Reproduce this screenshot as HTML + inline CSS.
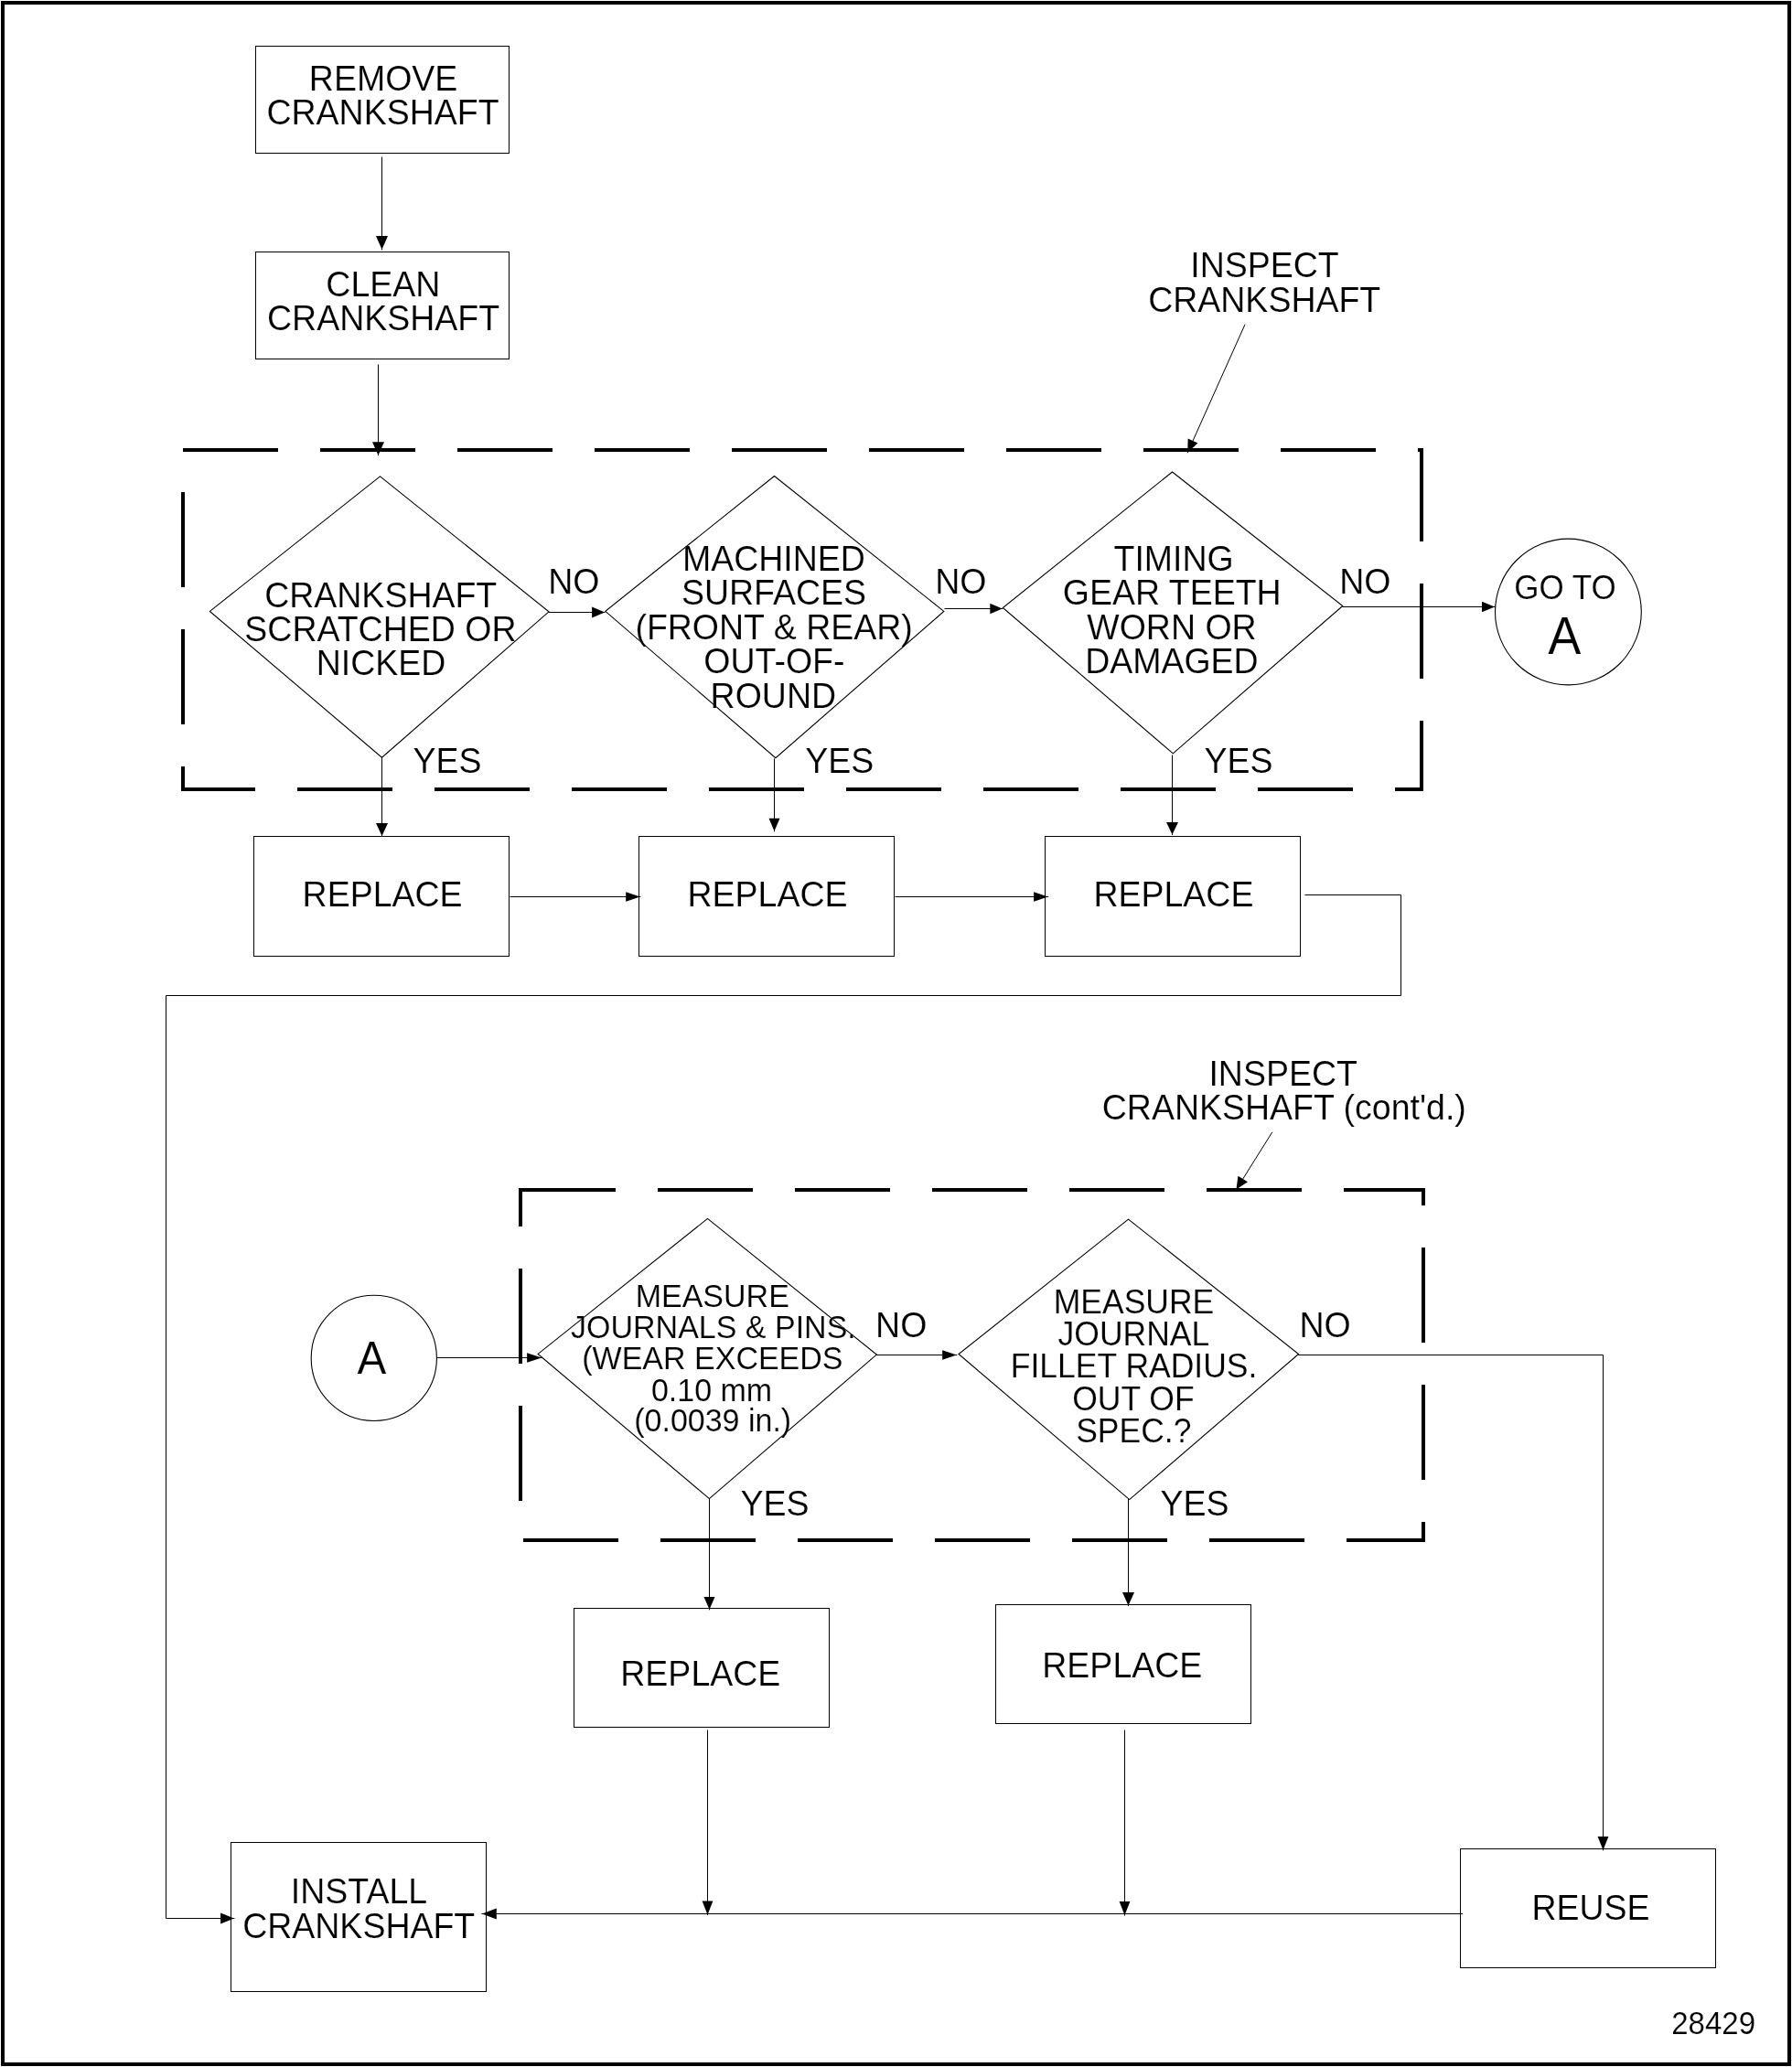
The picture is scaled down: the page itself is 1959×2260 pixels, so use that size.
<!DOCTYPE html>
<html><head><meta charset="utf-8"><title>Crankshaft flowchart</title>
<style>
html,body{margin:0;padding:0;background:#fff;}
body{width:1959px;height:2260px;overflow:hidden;}
svg{display:block;will-change:transform;}
text{font-family:"Liberation Sans", sans-serif;fill:#000;stroke:#fff;stroke-width:0.15px;}
</style></head><body>
<svg width="1959" height="2260" viewBox="0 0 1959 2260" stroke="#000">
<rect x="3" y="3" width="1953" height="2254" fill="none" stroke-width="4"/>
<rect x="279.5" y="50.5" width="277.0" height="117.0" fill="none"/>
<rect x="279.5" y="275.5" width="277.0" height="117.0" fill="none"/>
<rect x="277.5" y="914.5" width="279.0" height="131.0" fill="none"/>
<rect x="698.5" y="914.5" width="279.0" height="131.0" fill="none"/>
<rect x="1142.5" y="914.5" width="279.0" height="131.0" fill="none"/>
<rect x="252.5" y="2014.5" width="279.0" height="163.0" fill="none"/>
<rect x="627.5" y="1758.5" width="279.0" height="130.0" fill="none"/>
<rect x="1088.5" y="1754.5" width="279.0" height="130.0" fill="none"/>
<rect x="1596.5" y="2021.5" width="279.0" height="130.0" fill="none"/>
<rect x="200" y="492" width="1354" height="371" fill="none" stroke-width="4" stroke-dasharray="104 46"/>
<rect x="569" y="1301" width="987" height="383" fill="none" stroke-width="4" stroke-dasharray="104 46"/>
<polygon points="415.5,520.9 600,668.8 417.5,828.2 229.4,668.4" fill="none" stroke-width="1.1"/>
<polygon points="846.5,520.5 1031.8,668.4 847.9,828.7 661.8,668.3" fill="none" stroke-width="1.1"/>
<polygon points="1281.5,516 1467.8,662.5 1282.3,823.8 1096.3,664.5" fill="none" stroke-width="1.1"/>
<polygon points="773.5,1332.4 958.3,1481.1 775.4,1638.6 588.1,1480.4" fill="none" stroke-width="1.1"/>
<polygon points="1233.5,1333.1 1419.6,1480.5 1234.7,1639.6 1048,1480.5" fill="none" stroke-width="1.1"/>
<circle cx="1714.4" cy="669" r="79.9" fill="none" stroke-width="1.1"/>
<circle cx="408.8" cy="1484.9" r="68.6" fill="none" stroke-width="1.1"/>
<polyline points="417.5,172 417.5,272.8" fill="none" stroke-width="1" stroke-linejoin="miter" stroke-linecap="square"/>
<polygon points="417.50,272.80 411.00,258.00 424.00,258.00" fill="#000" stroke="none"/>
<polyline points="413.5,399 413.5,497.7" fill="none" stroke-width="1" stroke-linejoin="miter" stroke-linecap="square"/>
<polygon points="413.50,497.70 407.00,483.20 420.00,483.20" fill="#000" stroke="none"/>
<polyline points="600,669.5 661.1,669.5" fill="none" stroke-width="1" stroke-linejoin="miter" stroke-linecap="square"/>
<polygon points="661.10,669.50 647.10,675.50 647.10,663.50" fill="#000" stroke="none"/>
<polyline points="1033,665.5 1095.8,665.5" fill="none" stroke-width="1" stroke-linejoin="miter" stroke-linecap="square"/>
<polygon points="1095.80,665.50 1082.30,671.30 1082.30,659.70" fill="#000" stroke="none"/>
<polyline points="1467.8,663.5 1634,663.5" fill="none" stroke-width="1" stroke-linejoin="miter" stroke-linecap="square"/>
<polygon points="1634.00,663.50 1620.00,669.20 1620.00,657.80" fill="#000" stroke="none"/>
<polyline points="417.5,828.2 417.5,914.1" fill="none" stroke-width="1" stroke-linejoin="miter" stroke-linecap="square"/>
<polygon points="417.50,914.10 411.00,900.10 424.00,900.10" fill="#000" stroke="none"/>
<polyline points="846.5,829.9 846.5,908.8" fill="none" stroke-width="1" stroke-linejoin="miter" stroke-linecap="square"/>
<polygon points="846.50,908.80 840.50,894.80 852.50,894.80" fill="#000" stroke="none"/>
<polyline points="1281.5,826 1281.5,912.6" fill="none" stroke-width="1" stroke-linejoin="miter" stroke-linecap="square"/>
<polygon points="1281.50,912.60 1275.00,899.10 1288.00,899.10" fill="#000" stroke="none"/>
<polyline points="558,980.5 699.8,980.5" fill="none" stroke-width="1" stroke-linejoin="miter" stroke-linecap="square"/>
<polygon points="699.80,980.50 684.20,985.85 684.20,975.15" fill="#000" stroke="none"/>
<polyline points="979,980.5 1145.7,980.5" fill="none" stroke-width="1" stroke-linejoin="miter" stroke-linecap="square"/>
<polygon points="1145.70,980.50 1130.10,985.85 1130.10,975.15" fill="#000" stroke="none"/>
<polyline points="1427,978.5 1531.5,978.5 1531.5,1088.5 181.5,1088.5 181.5,2097.5 255.9,2097.5" fill="none" stroke-width="1" stroke-linejoin="miter" stroke-linecap="square"/>
<polygon points="255.90,2097.50 241.10,2103.40 241.10,2091.60" fill="#000" stroke="none"/>
<polyline points="1360.85,355.1 1298.3,494.8" fill="none" stroke-width="1" stroke-linejoin="miter" stroke-linecap="square"/>
<polygon points="1298.30,494.80 1298.64,479.61 1309.41,484.43" fill="#000" stroke="none"/>
<polyline points="1390.5,1238.3 1351.5,1300.5" fill="none" stroke-width="1" stroke-linejoin="miter" stroke-linecap="square"/>
<polygon points="1351.50,1300.50 1353.42,1285.77 1363.92,1292.36" fill="#000" stroke="none"/>
<polyline points="477.5,1484.5 592.1,1484.5" fill="none" stroke-width="1" stroke-linejoin="miter" stroke-linecap="square"/>
<polygon points="592.10,1484.50 576.10,1489.85 576.10,1479.15" fill="#000" stroke="none"/>
<polyline points="958.3,1481.5 1045.8,1481.5" fill="none" stroke-width="1" stroke-linejoin="miter" stroke-linecap="square"/>
<polygon points="1045.80,1481.50 1030.20,1486.65 1030.20,1476.35" fill="#000" stroke="none"/>
<polyline points="1419.6,1481.5 1752.5,1481.5 1752.5,2022.8" fill="none" stroke-width="1" stroke-linejoin="miter" stroke-linecap="square"/>
<polygon points="1752.50,2022.80 1746.55,2008.10 1758.45,2008.10" fill="#000" stroke="none"/>
<polyline points="775.5,1638.6 775.5,1759.8" fill="none" stroke-width="1" stroke-linejoin="miter" stroke-linecap="square"/>
<polygon points="775.50,1759.80 769.50,1746.10 781.50,1746.10" fill="#000" stroke="none"/>
<polyline points="1233.5,1639.6 1233.5,1755.5" fill="none" stroke-width="1" stroke-linejoin="miter" stroke-linecap="square"/>
<polygon points="1233.50,1755.50 1227.00,1741.10 1240.00,1741.10" fill="#000" stroke="none"/>
<polyline points="773.5,1892 773.5,2093.5" fill="none" stroke-width="1" stroke-linejoin="miter" stroke-linecap="square"/>
<polygon points="773.50,2093.50 767.60,2078.50 779.40,2078.50" fill="#000" stroke="none"/>
<polyline points="1229.5,1892 1229.5,2094" fill="none" stroke-width="1" stroke-linejoin="miter" stroke-linecap="square"/>
<polygon points="1229.50,2094.00 1223.60,2079.00 1235.40,2079.00" fill="#000" stroke="none"/>
<polyline points="1598.6,2092.5 526.9,2092.5" fill="none" stroke-width="1" stroke-linejoin="miter" stroke-linecap="square"/>
<polygon points="526.90,2092.50 542.80,2086.60 542.80,2098.40" fill="#000" stroke="none"/>
<text x="0" y="0" font-size="37.5" text-anchor="middle" transform="translate(419.1,99.0) scale(1,1.05)">REMOVE</text>
<text x="0" y="0" font-size="37.5" text-anchor="middle" transform="translate(418.5,136.0) scale(1,1.05)">CRANKSHAFT</text>
<text x="0" y="0" font-size="37.5" text-anchor="middle" transform="translate(418.8,324.0) scale(1,1.05)">CLEAN</text>
<text x="0" y="0" font-size="37.5" text-anchor="middle" transform="translate(419.1,361.0) scale(1,1.05)">CRANKSHAFT</text>
<text x="0" y="0" font-size="37.5" text-anchor="middle" transform="translate(416.2,664.0) scale(1,1.05)">CRANKSHAFT</text>
<text x="0" y="0" font-size="37.5" text-anchor="middle" transform="translate(415.9,701.0) scale(1,1.05)">SCRATCHED OR</text>
<text x="0" y="0" font-size="37.5" text-anchor="middle" transform="translate(416.5,738.0) scale(1,1.05)">NICKED</text>
<text x="0" y="0" font-size="37.5" text-anchor="middle" transform="translate(845.9,624.0) scale(1,1.05)">MACHINED</text>
<text x="0" y="0" font-size="37.5" text-anchor="middle" transform="translate(846.0,661.0) scale(1,1.05)">SURFACES</text>
<text x="0" y="0" font-size="37.5" text-anchor="middle" transform="translate(846.1,699.0) scale(1,1.05)">(FRONT &amp; REAR)</text>
<text x="0" y="0" font-size="37.5" text-anchor="middle" transform="translate(846.4,736.0) scale(1,1.05)">OUT-OF-</text>
<text x="0" y="0" font-size="37.5" text-anchor="middle" transform="translate(845.3,774.0) scale(1,1.05)">ROUND</text>
<text x="0" y="0" font-size="37.5" text-anchor="middle" transform="translate(1283.1,624.0) scale(1,1.05)">TIMING</text>
<text x="0" y="0" font-size="37.5" text-anchor="middle" transform="translate(1281.2,661.0) scale(1,1.05)">GEAR TEETH</text>
<text x="0" y="0" font-size="37.5" text-anchor="middle" transform="translate(1280.94,699.0) scale(1,1.05)">WORN OR</text>
<text x="0" y="0" font-size="37.5" text-anchor="middle" transform="translate(1280.9,736.0) scale(1,1.05)">DAMAGED</text>
<text x="0" y="0" font-size="37.5" text-anchor="middle" transform="translate(627.3,649.0) scale(1,1.05)">NO</text>
<text x="0" y="0" font-size="37.5" text-anchor="middle" transform="translate(1050.4,649.0) scale(1,1.05)">NO</text>
<text x="0" y="0" font-size="37.5" text-anchor="middle" transform="translate(1492.3,649.0) scale(1,1.05)">NO</text>
<text x="0" y="0" font-size="37.5" text-anchor="middle" transform="translate(489.1,845.0) scale(1,1.05)">YES</text>
<text x="0" y="0" font-size="37.5" text-anchor="middle" transform="translate(917.8,845.0) scale(1,1.05)">YES</text>
<text x="0" y="0" font-size="37.5" text-anchor="middle" transform="translate(1354.1,845.0) scale(1,1.05)">YES</text>
<text x="0" y="0" font-size="35" text-anchor="middle" transform="translate(1710.9,655.0) scale(1,1.055)">GO TO</text>
<text x="0" y="0" font-size="37.5" text-anchor="middle" transform="translate(1382.5,303.0) scale(1,1.05)">INSPECT</text>
<text x="0" y="0" font-size="37.5" text-anchor="middle" transform="translate(1382.2,341.0) scale(1,1.05)">CRANKSHAFT</text>
<text x="0" y="0" font-size="37.5" text-anchor="middle" transform="translate(418.1,991.0) scale(1,1.05)">REPLACE</text>
<text x="0" y="0" font-size="37.5" text-anchor="middle" transform="translate(839.0,991.0) scale(1,1.05)">REPLACE</text>
<text x="0" y="0" font-size="37.5" text-anchor="middle" transform="translate(1282.9,991.0) scale(1,1.05)">REPLACE</text>
<text x="0" y="0" font-size="37.5" text-anchor="middle" transform="translate(1402.7,1187.0) scale(1,1.05)">INSPECT</text>
<text x="0" y="0" font-size="37.5" text-anchor="middle" transform="translate(1403.8,1224.0) scale(1,1.05)">CRANKSHAFT (cont'd.)</text>
<text x="0" y="0" font-size="34" text-anchor="middle" transform="translate(778.75,1429.0) scale(1,1.05)">MEASURE</text>
<text x="0" y="0" font-size="34" text-anchor="middle" transform="translate(779.9,1463.0) scale(1,1.05)">JOURNALS &amp; PINS.</text>
<text x="0" y="0" font-size="34" text-anchor="middle" transform="translate(778.9,1497.0) scale(1,1.05)">(WEAR EXCEEDS</text>
<text x="0" y="0" font-size="34" text-anchor="middle" transform="translate(778.0,1532.0) scale(1,1.05)">0.10 mm</text>
<text x="0" y="0" font-size="34" text-anchor="middle" transform="translate(779.2,1565.0) scale(1,1.05)">(0.0039 in.)</text>
<text x="0" y="0" font-size="35.5" text-anchor="middle" transform="translate(1239.5,1436.0) scale(1,1.06)">MEASURE</text>
<text x="0" y="0" font-size="35.5" text-anchor="middle" transform="translate(1239.4,1471.0) scale(1,1.06)">JOURNAL</text>
<text x="0" y="0" font-size="35.5" text-anchor="middle" transform="translate(1239.6,1506.0) scale(1,1.06)">FILLET RADIUS.</text>
<text x="0" y="0" font-size="35.5" text-anchor="middle" transform="translate(1238.9,1542.0) scale(1,1.06)">OUT OF</text>
<text x="0" y="0" font-size="35.5" text-anchor="middle" transform="translate(1239.3,1577.0) scale(1,1.06)">SPEC.?</text>
<text x="0" y="0" font-size="37.5" text-anchor="middle" transform="translate(985.2,1462.0) scale(1,1.05)">NO</text>
<text x="0" y="0" font-size="37.5" text-anchor="middle" transform="translate(1448.5,1462.0) scale(1,1.05)">NO</text>
<text x="0" y="0" font-size="37.5" text-anchor="middle" transform="translate(846.9,1657.0) scale(1,1.05)">YES</text>
<text x="0" y="0" font-size="37.5" text-anchor="middle" transform="translate(1306.0,1657.0) scale(1,1.05)">YES</text>
<text x="0" y="0" font-size="37.5" text-anchor="middle" transform="translate(765.8,1843.0) scale(1,1.05)">REPLACE</text>
<text x="0" y="0" font-size="37.5" text-anchor="middle" transform="translate(1226.8,1834.0) scale(1,1.05)">REPLACE</text>
<text x="0" y="0" font-size="37.5" text-anchor="middle" transform="translate(392.5,2081.0) scale(1,1.05)">INSTALL</text>
<text x="0" y="0" font-size="37.5" text-anchor="middle" transform="translate(392.2,2119.0) scale(1,1.05)">CRANKSHAFT</text>
<text x="0" y="0" font-size="37.5" text-anchor="middle" transform="translate(1739.0,2099.0) scale(1,1.05)">REUSE</text>
<text x="0" y="0" font-size="33" text-anchor="middle" transform="translate(1873.1,2224.0) scale(1,1.05)">28429</text>
<text x="0" y="0" font-size="50" transform="translate(1692.3,715) scale(1.083,1.15)">A</text>
<text x="0" y="0" font-size="50" transform="translate(390.5,1502) scale(0.954,0.985)">A</text>
</svg>
</body></html>
